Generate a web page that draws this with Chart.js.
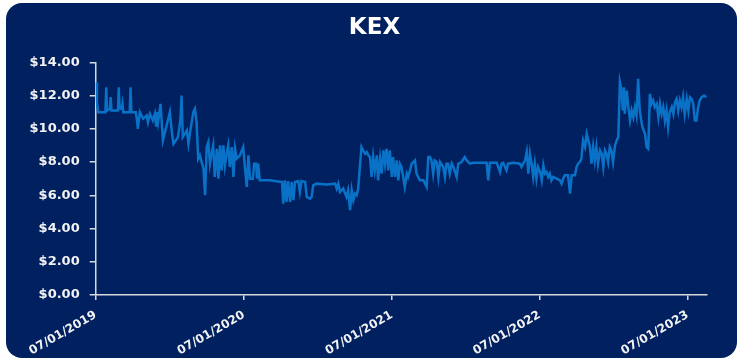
<!DOCTYPE html>
<html>
<head>
<meta charset="utf-8">
<script src="https://cdn.jsdelivr.net/npm/chart.js@4.4.0/dist/chart.umd.min.js"></script>
<style>
  html, body { margin: 0; padding: 0; background: #ffffff; }
  #card {
    position: absolute;
    left: 6px;
    top: 3px;
    width: 731px;
    height: 355px;
    background: #002060;
    border-radius: 16px;
    overflow: hidden;
  }
</style>
</head>
<body>
<div id="card"><canvas id="kex-chart"></canvas></div>
<script>
// days counted from 07/01/2019
const dayOffsets = [
  1, 3, 6, 13, 24, 26, 28, 35, 37, 39, 55, 57, 59, 64, 66, 68, 84, 86, 88, 99, 102, 104,
  109, 117, 126, 129, 134, 141, 146, 149, 151, 154, 160, 166, 175, 183, 188, 192, 203, 209, 212, 215,
  225, 229, 233, 241, 245, 249, 253, 257, 266, 270, 274, 278, 282, 286, 290, 294, 299, 303, 307, 311,
  315, 319, 323, 327, 331, 336, 340, 344, 348, 356, 364, 368, 373, 377, 381, 388, 391, 396, 398, 401,
  405, 430, 460, 463, 467, 471, 475, 480, 484, 488, 492, 500, 504, 508, 517, 521, 529, 533, 537, 545,
  570, 591, 595, 599, 603, 611, 619, 623, 628, 632, 636, 640, 644, 648, 652, 656, 660, 665, 669, 673,
  677, 681, 685, 689, 694, 697, 702, 706, 710, 714, 718, 722, 726, 731, 734, 739, 743, 747, 751, 755,
  759, 763, 768, 771, 776, 780, 784, 788, 792, 800, 809, 813, 817, 821, 825, 829, 833, 837, 842, 846,
  850, 858, 862, 866, 870, 874, 879, 883, 891, 895, 903, 911, 916, 924, 932, 948, 965, 969, 973, 990,
  998, 1002, 1006, 1014, 1018, 1031, 1047, 1051, 1055, 1060, 1064, 1068, 1072, 1076, 1080, 1084, 1088, 1092, 1097, 1101,
  1105, 1109, 1113, 1117, 1121, 1125, 1129, 1138, 1146, 1150, 1154, 1158, 1166, 1171, 1175, 1183, 1187, 1191, 1195, 1199,
  1203, 1208, 1212, 1216, 1220, 1224, 1228, 1232, 1236, 1240, 1245, 1249, 1253, 1257, 1261, 1265, 1269, 1273, 1277, 1282,
  1286, 1290, 1294, 1298, 1301, 1304, 1306, 1311, 1314, 1319, 1323, 1327, 1331, 1335, 1339, 1343, 1348, 1351, 1356, 1360,
  1364, 1368, 1372, 1376, 1380, 1385, 1389, 1393, 1397, 1401, 1405, 1409, 1413, 1417, 1422, 1426, 1430, 1434, 1438, 1442,
  1446, 1450, 1454, 1459, 1463, 1467, 1471, 1475, 1479, 1483, 1487, 1491, 1496, 1502, 1507
];

const prices = [
  12.8, 11.6, 11.0, 11.0, 11.0, 12.5, 11.1, 11.2, 11.9, 11.1, 11.1, 12.5, 11.2, 11.2, 11.5, 11.0, 11.0, 12.5, 11.0, 11.0, 10.5, 10.0,
  11.0, 10.6, 10.8, 10.4, 10.9, 10.5, 10.9, 10.2, 11.0, 10.4, 11.5, 9.3, 10.2, 11.0, 9.8, 9.1, 9.5, 10.5, 12.0, 9.5,
  9.9, 9.1, 9.8, 11.0, 11.2, 10.4, 8.2, 8.4, 7.6, 6.0, 8.9, 9.2, 7.9, 8.5, 9.0, 7.1, 8.8, 7.0, 9.0, 7.5,
  9.0, 7.8, 8.5, 9.0, 7.7, 8.9, 7.1, 8.8, 8.2, 8.4, 8.9, 7.8, 6.5, 8.4, 7.0, 7.0, 7.9, 7.9, 7.0, 7.9,
  6.9, 6.9, 6.8, 5.5, 6.9, 5.6, 6.85, 5.6, 6.8, 5.7, 6.8, 6.85, 6.2, 6.85, 6.8, 5.9, 5.8, 5.9, 6.6, 6.7,
  6.65, 6.7, 6.4, 6.7, 6.2, 6.4, 5.9, 6.3, 5.1, 6.3, 5.7, 6.1, 6.0, 6.4, 7.7, 8.9, 8.7, 8.5, 8.6, 8.4,
  8.3, 7.1, 8.3, 7.5, 8.4, 6.9, 8.2, 7.3, 8.7, 7.9, 8.8, 7.5, 8.7, 7.1, 8.3, 7.1, 8.1, 6.9, 7.9, 7.7,
  7.1, 6.5, 7.3, 7.1, 7.5, 7.9, 8.0, 8.1, 7.3, 6.9, 6.9, 6.7, 6.5, 8.3, 8.3, 8.1, 7.3, 8.1, 8.0, 7.1,
  8.0, 7.7, 7.1, 7.9, 7.9, 7.3, 7.9, 7.7, 7.1, 7.9, 8.0, 8.3, 8.1, 7.9, 7.95, 7.95, 7.95, 6.9, 7.95, 7.95,
  7.4, 7.9, 7.95, 7.5, 7.9, 7.95, 7.9, 7.7, 7.9, 8.1, 8.6, 7.3, 8.5, 7.9, 7.1, 7.9, 7.0, 7.7, 7.4, 6.9,
  7.8, 7.3, 7.4, 7.1, 7.3, 6.9, 7.1, 7.0, 6.9, 6.7, 7.0, 7.2, 7.2, 6.1, 7.2, 7.2, 7.7, 7.9, 8.0, 8.2,
  9.3, 8.9, 9.7, 9.3, 8.9, 7.9, 8.9, 8.1, 8.9, 7.9, 8.7, 8.5, 7.7, 8.7, 8.5, 8.0, 8.9, 8.7, 8.0, 9.0,
  9.3, 9.5, 12.8, 12.3, 11.1, 12.5, 10.9, 12.3, 11.5, 10.5, 11.1, 10.7, 11.3, 10.8, 13.0, 11.1, 10.3, 10.0, 9.7, 8.9,
  8.8, 12.1, 11.5, 11.7, 11.3, 11.5, 10.7, 11.5, 10.9, 11.3, 10.5, 11.1, 10.1, 11.0, 11.3, 10.9, 11.6, 11.8, 11.1, 11.7,
  11.3, 11.9, 10.9, 11.8, 11.1, 11.9, 11.8, 11.5, 10.5, 10.5, 11.3, 11.7, 11.9, 12.0, 11.9
];

const tickDays = [0, 366, 731, 1096, 1461];
const tickLabels = ["07/01/2019", "07/01/2020", "07/01/2021", "07/01/2022", "07/01/2023"];
const lastDay = 1509;

// the title sits centred on the whole card, not on the padded box
const centerTitle = {
  id: "centerTitle",
  afterLayout(chart) {
    if (chart.titleBlock) {
      chart.titleBlock.left = 0;
      chart.titleBlock.right = 737;
    }
  },
};

function kexChart() {
  const points = dayOffsets.map((d, i) => ({ x: d, y: prices[i] }));

  const data = {
    datasets: [
      {
        label: "KEX",
        data: points,
        borderColor: "#0A72C6",
        borderWidth: 2.5,
        pointRadius: 0,
        fill: false,
        tension: 0,
      },
    ],
  };

  const config = {
    type: "line",
    data: data,
    plugins: [centerTitle],
    options: {
      responsive: true,
      maintainAspectRatio: false,
      animation: false,
      layout: {
        padding: { left: 0, right: 30, top: 0, bottom: 0 },
      },
      scales: {
        x: {
          type: "linear",
          min: 0,
          max: lastDay,
          afterBuildTicks: (scale) => {
            scale.ticks = tickDays.map((v) => ({ value: v }));
          },
          afterFit: (scale) => {
            scale.height = 63;
          },
          ticks: {
            autoSkip: false,
            maxRotation: 30,
            minRotation: 30,
            padding: 8,
            color: "#f2f2f2",
            font: { family: "DejaVu Sans", weight: "bold", size: 12 },
            callback: (value, index) => tickLabels[index],
          },
          grid: {
            drawOnChartArea: false,
            drawTicks: true,
            tickLength: 5,
            color: "#d9d9d9",
            lineWidth: 1.5,
          },
          border: { display: true, color: "#d9d9d9", width: 1.5 },
        },
        y: {
          min: 0,
          max: 14,
          afterFit: (scale) => {
            scale.width = 89.7;
          },
          ticks: {
            stepSize: 2,
            padding: 10,
            color: "#f2f2f2",
            font: { family: "DejaVu Sans", weight: "bold", size: 13 },
            callback: (value) => "$" + value.toFixed(2),
          },
          grid: {
            drawOnChartArea: false,
            drawTicks: true,
            tickLength: 6,
            color: "#d9d9d9",
            lineWidth: 1.5,
          },
          border: { display: true, color: "#d9d9d9", width: 1.5 },
        },
      },
      plugins: {
        legend: { display: false },
        tooltip: { enabled: false },
        title: {
          display: true,
          text: "KEX",
          color: "#ffffff",
          font: { family: "DejaVu Sans", weight: "bold", size: 23 },
          padding: { top: 11, bottom: 20.7 },
        },
      },
    },
  };

  const myChart = new Chart(document.getElementById("kex-chart"), config);
}

kexChart();
</script>
</body>
</html>
